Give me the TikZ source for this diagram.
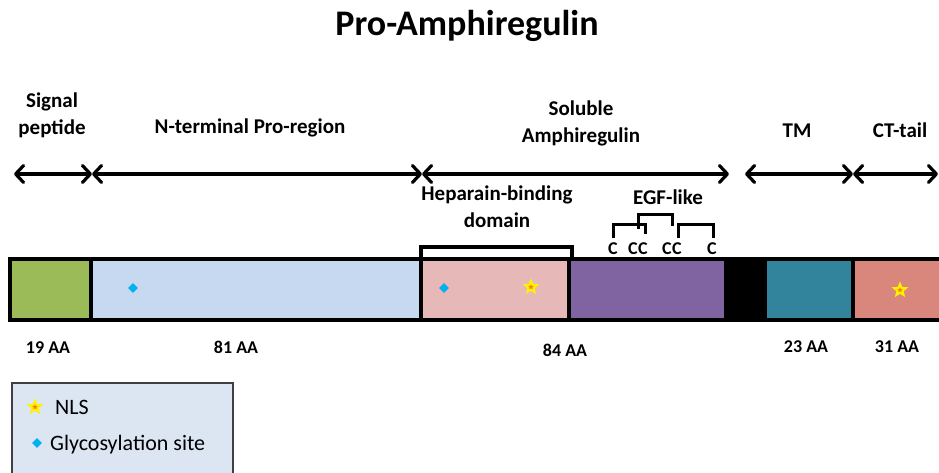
\documentclass[tikz,border=0pt]{standalone}
\usepackage{fontspec}
\setmainfont{Carlito}
\usepackage{tikz}
\usetikzlibrary{arrows.meta,shapes.geometric}

\definecolor{sigcol}{HTML}{9BBB59}
\definecolor{procol}{HTML}{C6D9F1}
\definecolor{hepcol}{HTML}{E6B9B8}
\definecolor{egfcol}{HTML}{8064A2}
\definecolor{tmcol}{HTML}{31849B}
\definecolor{ctcol}{HTML}{D9877C}
\definecolor{glycol}{HTML}{00B0F0}
\definecolor{keycol}{HTML}{DCE6F2}

\begin{document}
\begin{tikzpicture}[x=1pt,y=-1pt,
  lbl/.style={font=\fontsize{21}{27}\selectfont\bfseries, align=center, inner sep=0pt},
  aa/.style={font=\fontsize{18}{20}\selectfont\bfseries, inner sep=0pt},
  cys/.style={font=\fontsize{18}{20}\selectfont\bfseries, inner xsep=0pt, inner ysep=4pt},
  span/.style={line width=3.2pt, >={Straight Barb[length=8pt,width=17pt,round]}, <->},
  seg/.style={draw, line width=4pt},
  bond/.style={line width=3pt},
  glyco/.style={diamond, fill=glycol, inner sep=0pt, minimum size=10pt},
  nls/.style={star, star points=5, star point ratio=2.3, fill=orange, draw=yellow, line width=2pt, inner sep=0pt, minimum size=12pt},
  key/.style={font=\fontsize{22}{24}\selectfont, inner sep=0pt, anchor=base west}]
  \def\bartop{259}  % centre line of the bar outline
  \def\barbot{320}
  \def\arrowy{174}  % height of the span arrows

  \useasboundingbox (0,0) rectangle (939,472);
  \clip (0,0) rectangle (939,472);

  % Title
  \node[font=\fontsize{36}{40}\selectfont\bfseries, anchor=base] (title) at (467,35) {Pro-Amphiregulin};

  % Region names
  \node[lbl] (sig) at (52,115) {Signal\\peptide};
  \node[lbl, anchor=base] (nterm) at (250,133) {N-terminal Pro-region};
  \node[lbl] (sol) at (581,123) {Soluble\\Amphiregulin};
  \node[lbl, anchor=base] (tm) at (797,137) {TM};
  \node[lbl, anchor=base] (ct) at (900,137) {CT-tail};

  % Span arrows
  \coordinate (a0) at (14,\arrowy);
  \coordinate (a1) at (92,\arrowy);
  \coordinate (a2) at (422,\arrowy);
  \coordinate (a3) at (729,\arrowy);
  \coordinate (a4) at (745,\arrowy);
  \coordinate (a5) at (853,\arrowy);
  \coordinate (a6) at (938,\arrowy);
  \foreach \p/\q in {a0/a1,a1/a2,a2/a3,a4/a5,a5/a6}
    \draw[span] (\p) -- (\q);

  % Domains of the precursor
  \filldraw[seg, fill=sigcol] (10,\bartop) rectangle (90.5,\barbot);
  \filldraw[seg, fill=procol] (90.5,\bartop) rectangle (421,\barbot);
  \filldraw[seg, fill=hepcol] (421,\bartop) rectangle (569,\barbot);
  \filldraw[seg, fill=egfcol] (569,\bartop) rectangle (726,\barbot);
  \fill (724,257) rectangle (765,322);
  \filldraw[seg, fill=tmcol] (765,\bartop) rectangle (853,\barbot);
  \filldraw[seg, fill=ctcol] (853,\bartop) rectangle (950,\barbot);

  % Heparin-binding bracket
  \coordinate (hepL) at (421,257);
  \coordinate (hepR) at (572,257);
  \draw[bond, line width=3.6pt] (hepL) -- ++(0,-10) -| (hepR);
  \node[lbl] (hep) at (497,207) {Heparain-binding\\domain};

  % EGF-like cysteines and their bonds
  \node[lbl, anchor=base] (egf) at (668,204) {EGF-like};
  \foreach \x [count=\i] in {613,633,643,667,677,712}
    \node[cys, anchor=base] (c\i) at (\x,254) {C};
  \draw[bond] (c1.north) -- ++(0,-14) -| ([xshift=2pt,yshift=4pt]c3.north);
  \draw[bond] ([xshift=5pt,yshift=9pt]c2.north) -- ++(0,-15) -| ([xshift=5pt,yshift=12pt]c4.north);
  \draw[bond] ([xshift=1pt]c5.north) -- ++(0,-14) -| ([xshift=1pt]c6.north);

  % Sites
  \node[glyco] (gly1) at (133,288) {};
  \node[glyco] (gly2) at (444,288) {};
  \node[nls] (nls1) at (531,287) {};
  \node[nls] (nls2) at (900,290) {};

  % Lengths
  \node[aa, anchor=base] (aa1) at (48,353) {19 AA};
  \node[aa, anchor=base] (aa2) at (236,353) {81 AA};
  \node[aa, anchor=base] (aa3) at (565,356) {84 AA};
  \node[aa, anchor=base] (aa4) at (806,352) {23 AA};
  \node[aa, anchor=base] (aa5) at (897,352) {31 AA};

  % Key
  \filldraw[draw=black!75, line width=1.5pt, fill=keycol] (12,383) rectangle (233,490);
  \node[nls] (keynls) at (35,407) {};
  \node[key] (keynlstxt) at (55,414) {NLS};
  \node[glyco] (keygly) at (37,443) {};
  \node[key] (keyglytxt) at (50,450) {Glycosylation site};
\end{tikzpicture}
\end{document}
